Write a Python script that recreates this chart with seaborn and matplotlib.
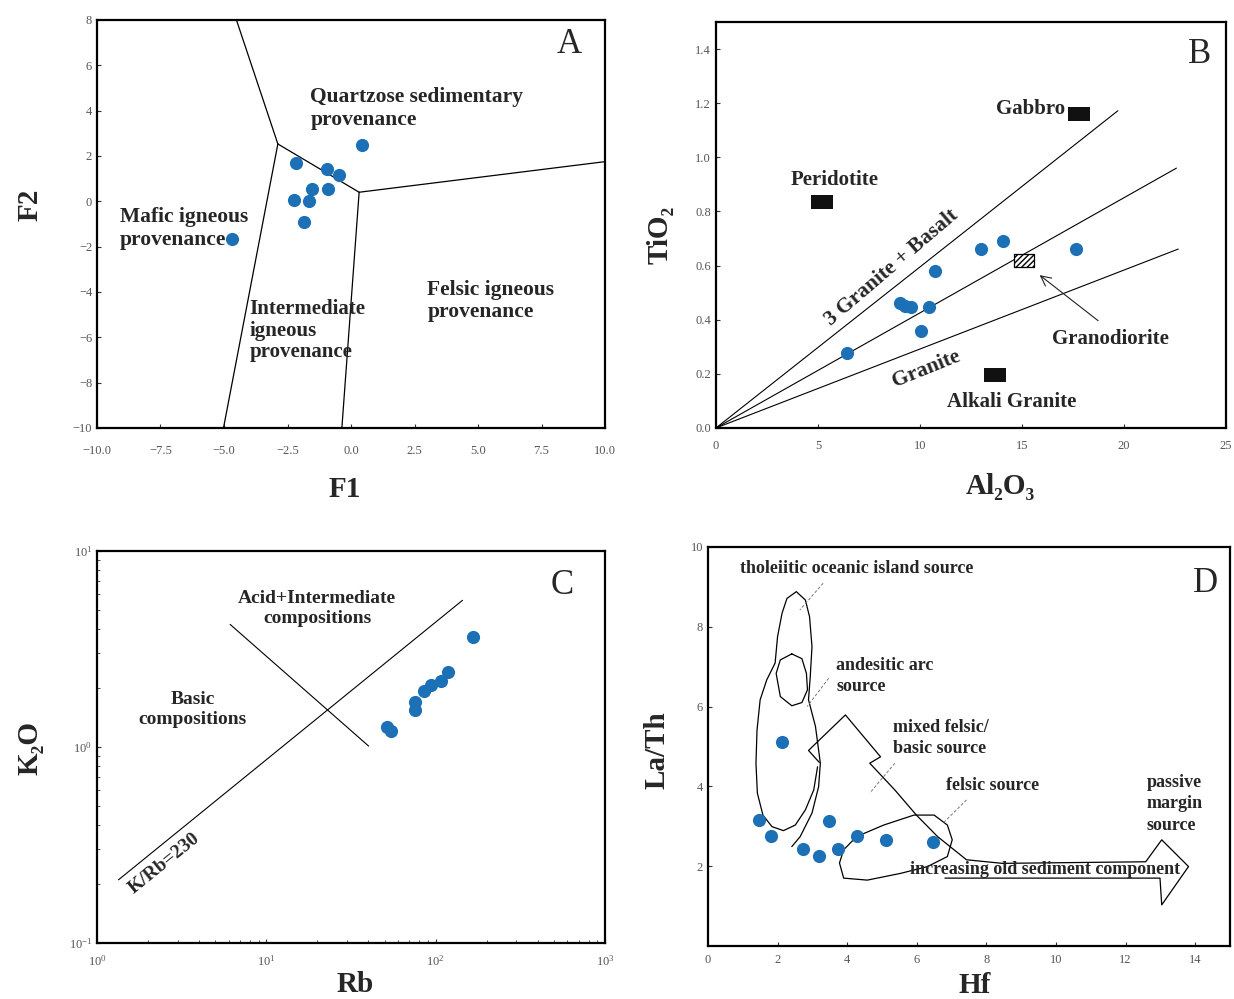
import numpy as np
import matplotlib.pyplot as plt
import seaborn as sns

# ---------------- data ----------------
# panel A: discriminant function diagram
a_f1 = [0.44, -2.18, -0.95, -0.46, -1.52, -0.92, -2.24, -1.66, -1.85, -4.69]
a_f2 = [2.49, 1.68, 1.43, 1.18, 0.54, 0.54, 0.06, 0.01, -0.91, -1.68]
a_seg_x = [[-4.51, -2.88], [-2.88, 0.32], [0.32, 10.0], [-2.88, -5.02], [0.32, -0.36]]
a_seg_y = [[8.0, 2.53], [2.53, 0.40], [0.40, 1.75], [2.53, -10.0], [0.40, -10.0]]

# panel B: TiO2 vs Al2O3
b_al = [6.42, 9.03, 9.29, 9.55, 10.42, 10.03, 10.76, 12.97, 14.06, 17.64]
b_ti = [0.276, 0.46, 0.452, 0.448, 0.448, 0.36, 0.579, 0.66, 0.69, 0.66]
b_line_end_x = [19.7, 22.57, 22.66]
b_line_end_y = [1.172, 0.96, 0.661]
b_rock_names = ["Gabbro", "Peridotite", "Alkali Granite"]
b_rock_x = [17.8, 5.21, 13.68]
b_rock_y = [1.16, 0.834, 0.196]
b_grano_x = [15.1]
b_grano_y = [0.618]
b_arrow_x = [18.84, 15.76]
b_arrow_y = [0.39, 0.571]

# panel C: K2O vs Rb (log-log)
c_rb = [51.9, 54.4, 75.2, 75.9, 84.8, 93.4, 107, 118, 165]
c_k2o = [1.27, 1.20, 1.70, 1.54, 1.94, 2.06, 2.18, 2.40, 3.65]
c_krb_x = [1.34, 144.0]
c_krb_y = [0.21, 5.6]
c_cross_x = [6.11, 40.2]
c_cross_y = [4.22, 1.01]

# panel D: La/Th vs Hf
d_hf = [1.48, 1.81, 2.13, 2.72, 3.18, 3.49, 3.75, 4.27, 5.11, 6.47]
d_lath = [3.15, 2.76, 5.11, 2.44, 2.25, 3.12, 2.43, 2.75, 2.65, 2.60]
d_tol_x = [2.41, 2.65, 2.99, 3.18, 3.23, 3.09, 2.89, 2.94, 2.99, 2.92, 2.80, 2.54,
           2.27, 2.13, 2.00, 1.93, 1.69, 1.50, 1.41, 1.38, 1.42, 1.58, 1.84, 2.17,
           2.51, 2.80, 3.04, 3.15]
d_tol_y = [2.49, 2.74, 3.33, 3.99, 4.58, 5.50, 6.17, 6.75, 7.50, 8.25, 8.67, 8.88,
           8.71, 8.34, 7.75, 7.09, 6.67, 6.17, 5.41, 4.58, 3.83, 3.28, 2.99, 2.89,
           3.03, 3.41, 3.91, 4.49]
d_and_x = [2.41, 2.70, 2.83, 2.86, 2.70, 2.41, 2.08, 1.96, 2.08, 2.41]
d_and_y = [7.32, 7.20, 6.83, 6.42, 6.10, 6.02, 6.25, 6.83, 7.17, 7.32]
d_mix_x = [3.20, 2.89, 3.95, 4.96, 4.65, 5.37, 5.99, 6.60, 7.43, 8.46, 12.58,
           13.04, 13.81, 13.04, 12.99, 6.81]
d_mix_y = [4.60, 4.90, 5.79, 4.74, 4.58, 3.91, 3.28, 2.74, 2.16, 2.07, 2.11,
           2.66, 1.99, 1.03, 1.70, 1.70]
d_fel_x = [3.78, 3.90, 4.27, 5.05, 5.92, 6.50, 6.88, 7.02, 6.88, 6.31, 5.54, 4.58, 3.90, 3.78]
d_fel_y = [2.08, 2.41, 2.74, 3.03, 3.28, 3.28, 3.03, 2.66, 2.24, 1.99, 1.82, 1.65, 1.70, 2.08]
d_lead_x = [[3.31, 2.64], [3.47, 2.85], [5.37, 4.65], [7.43, 6.76]]
d_lead_y = [[9.09, 8.42], [6.71, 6.00], [4.58, 3.83], [3.66, 3.08]]

BLUE = "#1b70b6"

sns.set_theme(style="white")
plt.rcParams["font.family"] = ["Liberation Serif", "DejaVu Serif"]
plt.rcParams["mathtext.fontset"] = "stix"

fig = plt.figure(figsize=(12.34, 9.99), dpi=100)
axA = fig.add_axes([0.0786, 0.5716, 0.4117, 0.4084])
axB = fig.add_axes([0.5802, 0.5716, 0.4133, 0.4064])
axC = fig.add_axes([0.0786, 0.0561, 0.4117, 0.3924])
axD = fig.add_axes([0.5737, 0.0531, 0.4230, 0.3994])


def style_axes(ax, xpad=6):
    for sp in ax.spines.values():
        sp.set_color("black")
        sp.set_linewidth(1.6)
    ax.tick_params(which="both", bottom=True, left=True, direction="in",
                   labelsize=9, labelcolor="#555555", color="#333333")
    ax.tick_params(which="major", length=3, width=0.8)
    ax.tick_params(which="minor", length=2, width=0.6)
    ax.tick_params(axis="x", which="both", pad=xpad)


def line(ax, xs, ys, **kw):
    kw.setdefault("color", "black")
    kw.setdefault("lw", 0.9)
    sns.lineplot(x=xs, y=ys, sort=False, estimator=None, ax=ax, **kw)


def dots(ax, xs, ys):
    sns.scatterplot(x=xs, y=ys, color=BLUE, s=90, linewidth=0, ax=ax, zorder=5)


bold = dict(fontweight="bold")

# ---------------- A ----------------
for xs, ys in zip(a_seg_x, a_seg_y):
    line(axA, xs, ys)
dots(axA, a_f1, a_f2)
axA.set_xlim(-10, 10)
axA.set_ylim(-10, 8)
axA.set_xticks(np.arange(-10, 10.1, 2.5))
axA.set_xticklabels([f"{v:.1f}".replace("-", "\u2212") for v in np.arange(-10, 10.1, 2.5)])
axA.set_yticks(range(-10, 9, 2))
axA.text(-1.6, 4.1, "Quartzose sedimentary\nprovenance", fontsize=15.5, ha="left", va="center", linespacing=1.15, **bold)
axA.text(-9.1, -1.2, "Mafic igneous\nprovenance", fontsize=15.5, ha="left", va="center", linespacing=1.15, **bold)
axA.text(-4.0, -5.7, "Intermediate\nigneous\nprovenance", fontsize=15, ha="left", va="center", linespacing=1.1, **bold)
axA.text(3.0, -4.4, "Felsic igneous\nprovenance", fontsize=15.5, ha="left", va="center", linespacing=1.15, **bold)
axA.text(8.6, 6.9, "A", fontsize=25, ha="center", va="center")
axA.set_xlabel("F1", fontsize=21, va="center", **bold)
axA.set_ylabel("F2", fontsize=21, va="center", **bold)
axA.xaxis.set_label_coords(0.488, -0.152)
axA.yaxis.set_label_coords(-0.132, 0.547)
style_axes(axA, xpad=12)

# ---------------- B ----------------
for ex, ey in zip(b_line_end_x, b_line_end_y):
    line(axB, [0, ex], [0, ey], lw=0.8)
dots(axB, b_al, b_ti)
RECT = [(-1.6, -1), (1.6, -1), (1.6, 1), (-1.6, 1), (-1.6, -1)]
sns.scatterplot(x=b_rock_x, y=b_rock_y, marker=RECT, s=230, color="#111111", linewidth=0, ax=axB, zorder=6)
sns.scatterplot(x=b_grano_x, y=b_grano_y, marker=RECT, s=210, color="white", edgecolor="black",
                linewidth=0.9, hatch="//////", ax=axB, zorder=6)
axB.annotate("", xy=(b_arrow_x[1], b_arrow_y[1]), xytext=(b_arrow_x[0], b_arrow_y[0]),
             arrowprops=dict(arrowstyle="->", lw=0.8, color="#222222", mutation_scale=18))
axB.text(15.4, 1.18, b_rock_names[0], fontsize=15, ha="center", va="center", **bold)
axB.text(5.8, 0.916, b_rock_names[1], fontsize=15, ha="center", va="center", **bold)
axB.text(14.5, 0.095, b_rock_names[2], fontsize=15, ha="center", va="center", **bold)
axB.text(19.36, 0.329, "Granodiorite", fontsize=15, ha="center", va="center", **bold)
axB.text(8.6, 0.594, "3 Granite + Basalt", fontsize=15.5, ha="center", va="center",
         rotation=40.5, rotation_mode="anchor", **bold)
axB.text(10.33, 0.218, "Granite", fontsize=15.5, ha="center", va="center",
         rotation=22, rotation_mode="anchor", **bold)
axB.text(23.7, 1.38, "B", fontsize=25, ha="center", va="center")
axB.set_xlim(0, 25)
axB.set_ylim(0, 1.5)
axB.set_xticks(range(0, 26, 5))
axB.set_yticks(np.arange(0, 1.41, 0.2))
axB.set_yticklabels([f"{v:.1f}" for v in np.arange(0, 1.41, 0.2)])
axB.set_xlabel("Al\u2082O\u2083", fontsize=21, va="center", **bold)
axB.set_ylabel("TiO\u2082", fontsize=21, va="center", **bold)
axB.xaxis.set_label_coords(0.557, -0.145)
axB.yaxis.set_label_coords(-0.11, 0.475)
style_axes(axB, xpad=9)

# ---------------- C ----------------
axC.set_xscale("log")
axC.set_yscale("log")
line(axC, c_krb_x, c_krb_y, lw=0.8)
line(axC, c_cross_x, c_cross_y, lw=0.8)
dots(axC, c_rb, c_k2o)
axC.set_xlim(1, 1000)
axC.set_ylim(0.1, 10)
axC.text(20, 5.1, "Acid+Intermediate\ncompositions", fontsize=14, ha="center", va="center", linespacing=1.2, **bold)
axC.text(3.68, 1.55, "Basic\ncompositions", fontsize=14, ha="center", va="center", linespacing=1.2, **bold)
axC.text(2.5, 0.255, "K/Rb=230", fontsize=14, ha="center", va="center",
         rotation=39, rotation_mode="anchor", **bold)
axC.text(560, 6.7, "C", fontsize=25, ha="center", va="center")
axC.set_xlabel("Rb", fontsize=21, va="center", **bold)
axC.set_ylabel("K\u2082O", fontsize=21, va="center", **bold)
axC.xaxis.set_label_coords(0.508, -0.107)
axC.yaxis.set_label_coords(-0.132, 0.497)
style_axes(axC, xpad=8)

# ---------------- D ----------------
line(axD, d_tol_x, d_tol_y, lw=0.9)
line(axD, d_and_x, d_and_y, lw=0.9)
line(axD, d_mix_x, d_mix_y, lw=0.9)
line(axD, d_fel_x, d_fel_y, lw=0.9)
for xs, ys in zip(d_lead_x, d_lead_y):
    line(axD, xs, ys, lw=0.7, color="#777777", linestyle=(0, (3, 2)))
dots(axD, d_hf, d_lath)
axD.text(0.93, 9.47, "tholeiitic oceanic island source", fontsize=13, ha="left", va="center", **bold)
axD.text(3.69, 6.77, "andesitic arc\nsource", fontsize=13, ha="left", va="center", linespacing=1.35, **bold)
axD.text(5.33, 5.21, "mixed felsic/\nbasic source", fontsize=13, ha="left", va="center", linespacing=1.35, **bold)
axD.text(6.84, 4.01, "felsic source", fontsize=13, ha="left", va="center", **bold)
axD.text(12.6, 3.56, "passive\nmargin\nsource", fontsize=13, ha="left", va="center", linespacing=1.35, **bold)
axD.text(5.82, 1.92, "increasing old sediment component", fontsize=13, ha="left", va="center", **bold)
axD.text(14.3, 9.08, "D", fontsize=25, ha="center", va="center")
axD.set_xlim(0, 15)
axD.set_ylim(0, 10)
axD.set_xticks(range(0, 15, 2))
axD.set_yticks(range(2, 11, 2))
axD.set_xlabel("Hf", fontsize=21, va="center", **bold)
axD.set_ylabel("La/Th", fontsize=21, va="center", **bold)
axD.xaxis.set_label_coords(0.511, -0.098)
axD.yaxis.set_label_coords(-0.098, 0.491)
style_axes(axD, xpad=6)

fig.savefig("out.png", dpi=100, facecolor="white")
